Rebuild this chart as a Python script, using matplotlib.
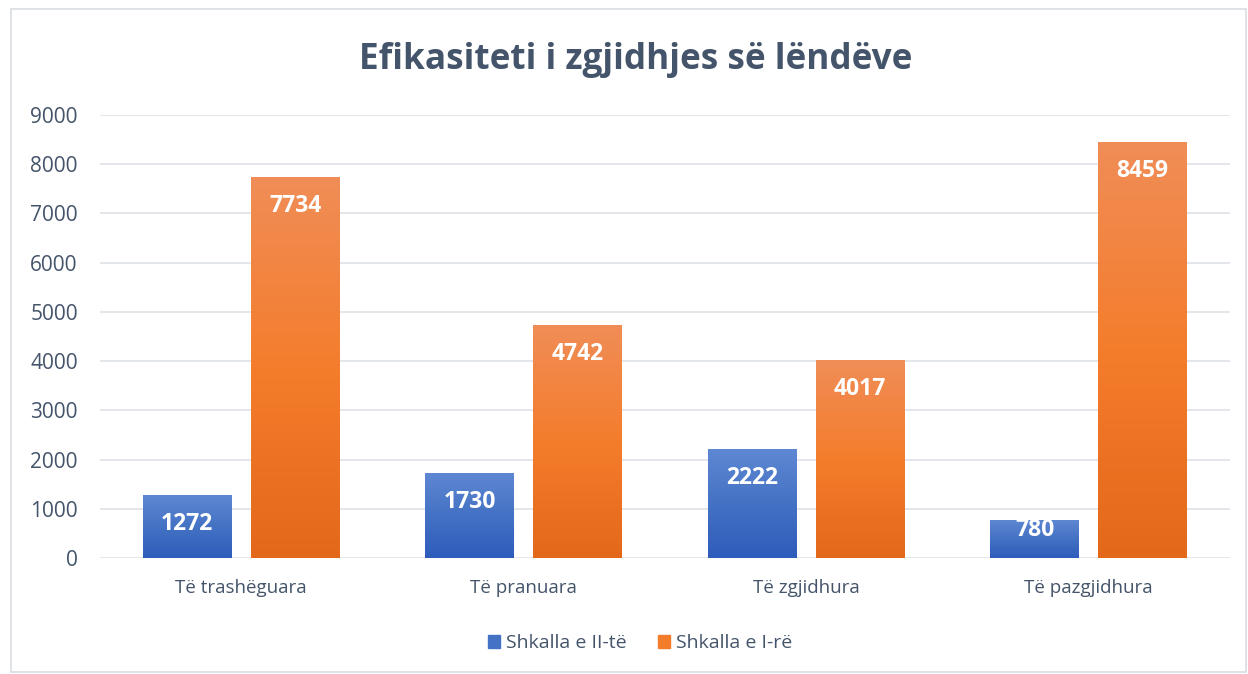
import matplotlib
matplotlib.use("Agg")
import matplotlib.pyplot as plt
import numpy as np
from matplotlib.patches import Rectangle
from matplotlib.colors import LinearSegmentedColormap

categories = ["Të trashëguara", "Të pranuara", "Të zgjidhura", "Të pazgjidhura"]
series_names = ["Shkalla e II-të", "Shkalla e I-rë"]
vals_II = [1272, 1730, 2222, 780]
vals_I = [7734, 4742, 4017, 8459]
yticks = [0, 1000, 2000, 3000, 4000, 5000, 6000, 7000, 8000, 9000]

plt.rcParams['font.family'] = ['Open Sans', 'DejaVu Sans']
text_col = "#44546A"

fig = plt.figure(figsize=(12.48, 6.74), dpi=100)
fig.patch.set_facecolor("white")
# outer chart border
fig.add_artist(Rectangle((11/1248, 1 - 672/674), (1246-11)/1248, (672-9)/674, transform=fig.transFigure,
                         fill=False, edgecolor="#D9DDE3", linewidth=1.2))

ax_h_px = 558 - 115
ax = fig.add_axes([100/1248, 1 - 558/674, 1130/1248, ax_h_px/674])
ax.set_xlim(-0.5, 3.5)
ax.set_ylim(0, 9000)
ax.set_yticks(yticks)
ax.set_yticklabels([str(t) for t in yticks], fontsize=15, color=text_col)
ax.set_xticks(range(len(categories)))
ax.set_xticklabels(categories, fontsize=13.5, color=text_col)
ax.tick_params(axis='both', length=0)
ax.tick_params(axis='y', pad=16)
ax.tick_params(axis='x', pad=15)
for s in ax.spines.values():
    s.set_visible(False)
ax.grid(axis='y', color="#E1E5EA", linewidth=1.3)
ax.set_axisbelow(True)

cmap_blue = LinearSegmentedColormap.from_list("b", ["#2E5CBB", "#4472C4", "#5F88D3"])
cmap_orange = LinearSegmentedColormap.from_list("o", ["#E4681A", "#F47D2C", "#F08D57"])
grad = np.linspace(0, 1, 256).reshape(-1, 1)

w = 0.315
off = 0.191
x = np.arange(len(categories))

def grad_bars(xs, vals, cmap, color):
    bars = ax.bar(xs, vals, width=w, color=color, zorder=2)
    for b, v in zip(bars, vals):
        x0 = b.get_x()
        im = ax.imshow(grad, extent=[x0, x0 + b.get_width(), 0, v], origin='lower',
                       aspect='auto', cmap=cmap, zorder=3)
        im.set_clip_path(b)
        bar_px = v / 9000 * ax_h_px
        drop_px = min(29.0, bar_px - 28.0)
        ax.annotate(str(v), (b.get_x() + b.get_width() / 2, v), xytext=(0, -drop_px * 0.72),
                    textcoords='offset points', ha='center', va='center',
                    color='white', fontsize=16.5, fontweight='bold', zorder=4)
    return bars

grad_bars(x - off, vals_II, cmap_blue, "#4472C4")
grad_bars(x + off, vals_I, cmap_orange, "#F47D2C")
ax.set_xlim(-0.5, 3.5)
ax.set_ylim(0, 9000)

fig.text(636/1248, 1 - 60/674, "Efikasiteti i zgjidhjes së lëndëve", ha='center', va='center',
         fontsize=25.3, fontweight='bold', color=text_col)

handles = [Rectangle((0, 0), 1, 1, color="#4472C4"), Rectangle((0, 0), 1, 1, color="#F47D2C")]
fig.legend(handles, series_names, loc='center', bbox_to_anchor=(640/1248, 1 - 643/674),
           ncol=2, frameon=False, fontsize=14, labelcolor=text_col, handlelength=0.65,
           handleheight=0.65, handletextpad=0.3, columnspacing=1.6)

fig.savefig("out.png", dpi=100, facecolor="white")
